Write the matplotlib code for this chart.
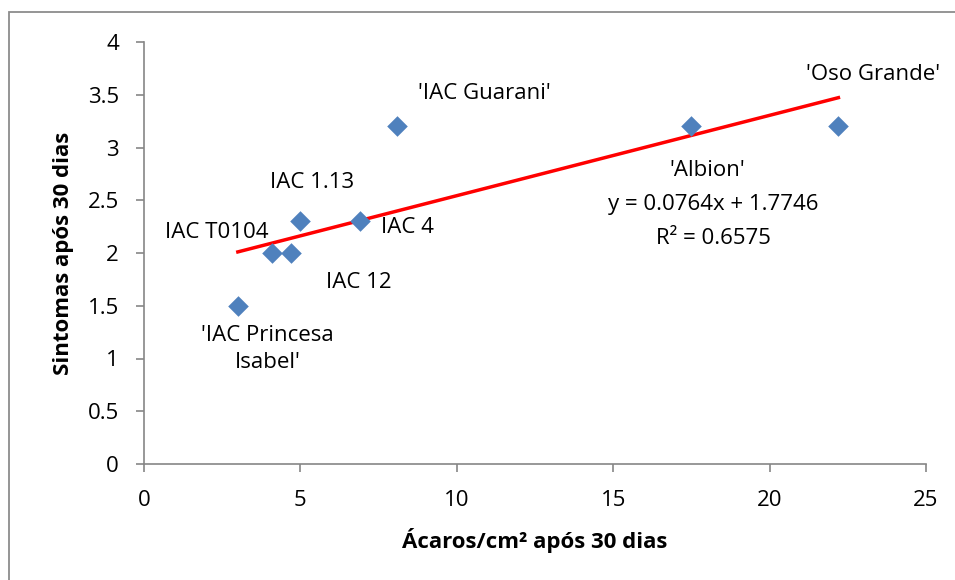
import matplotlib
matplotlib.use("Agg")
import matplotlib.pyplot as plt
from matplotlib.patches import Rectangle
import numpy as np

# Data
cultivars = ["'IAC Princesa\nIsabel'", "IAC T0104", "IAC 12", "IAC 1.13", "IAC 4",
             "'IAC Guarani'", "'Albion'", "'Oso Grande'"]
acaros = [3.0, 4.1, 4.7, 5.0, 6.9, 8.1, 17.5, 22.2]
sintomas = [1.5, 2.0, 2.0, 2.3, 2.3, 3.2, 3.2, 3.2]
x_ticks = [0, 5, 10, 15, 20, 25]
y_ticks = [0, 0.5, 1, 1.5, 2, 2.5, 3, 3.5, 4]
eq_text = "y = 0.0764x + 1.7746"
r2_text = "R² = 0.6575"

# label offsets in pixels (dx, dy) from each point
label_offsets = [(30, -43), (-55, 20), (68, -30), (12, 39), (48, -6),
                 (87, 33), (16, -44), (35, 52)]

plt.rcParams['font.family'] = ['Open Sans', 'DejaVu Sans']
FS = 16

fig = plt.figure(figsize=(9.55, 5.8), dpi=100)
fig.patches.append(Rectangle((9/955, -0.1), 1.2, 1 - 12/580 + 0.1,
                             transform=fig.transFigure, fill=False,
                             edgecolor='#8c8c8c', linewidth=1.3))
ax = fig.add_axes([144/955, 1 - 464/580, (926 - 144)/955, (464 - 42)/580])

ax.scatter(acaros, sintomas, marker='D', s=110, color='#4F81BD', zorder=3, linewidths=0)

slope, intercept = np.polyfit(acaros, sintomas, 1)
xs = np.array([min(acaros), max(acaros)])
ax.plot(xs, slope * xs + intercept, color='#FF0000', linewidth=2.5, zorder=2)

px_per_pt = 100 / 72
for name, x, y, (dx, dy) in zip(cultivars, acaros, sintomas, label_offsets):
    ax.annotate(name, (x, y), xytext=(dx / px_per_pt, dy / px_per_pt),
                textcoords='offset points', ha='center', va='center',
                fontsize=FS, linespacing=1.4)

ax.text(18.2, 2.455, eq_text, ha='center', va='center', fontsize=FS)
ax.text(18.2, 2.133, r2_text, ha='center', va='center', fontsize=FS)

ax.set_xlim(0, 25)
ax.set_ylim(0, 4)
ax.set_xticks(x_ticks)
ax.set_yticks(y_ticks)
ax.set_xticklabels([f"{t:g}" for t in x_ticks])
ax.set_yticklabels([f"{t:g}" for t in y_ticks])
ax.tick_params(axis='both', labelsize=FS, color='#868686', length=6, width=1.2,
               direction='out')
ax.tick_params(axis='y', pad=12)
ax.tick_params(axis='x', pad=13)
for s in ['top', 'right']:
    ax.spines[s].set_visible(False)
for s in ['left', 'bottom']:
    ax.spines[s].set_color('#868686')
    ax.spines[s].set_linewidth(1.2)

ax.set_xlabel("Ácaros/cm² após 30 dias", fontsize=FS, fontweight='bold', labelpad=12)
ax.set_ylabel("Sintomas após 30 dias", fontsize=FS, fontweight='bold', labelpad=10)

fig.savefig("out.png", dpi=100)
